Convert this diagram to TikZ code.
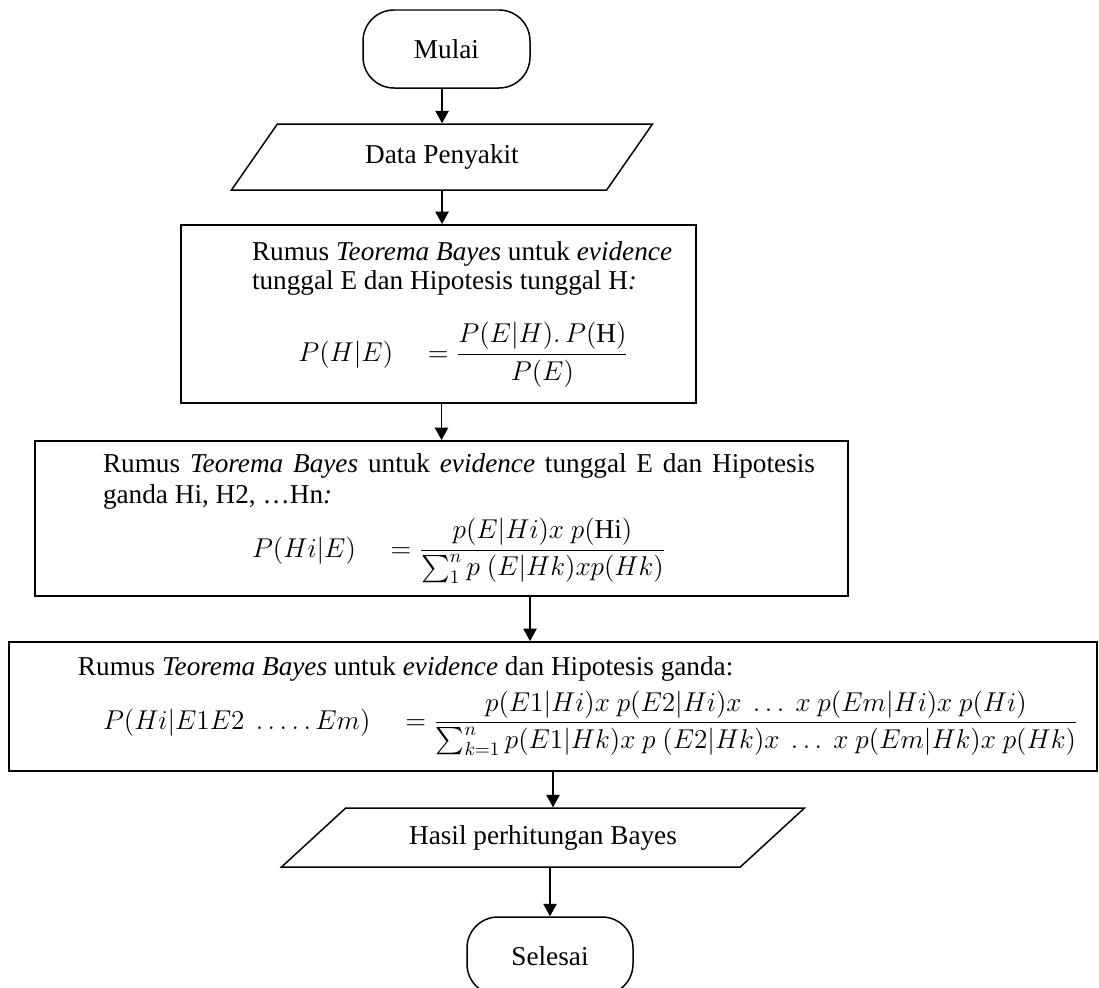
\documentclass[tikz,border=0pt]{standalone}
\usepackage{fix-cm}
\usepackage{amsmath, amssymb}
\usepackage{fontspec}
\setmainfont{Liberation Serif}
\usetikzlibrary{shapes.geometric, arrows.meta}
\newcommand{\diagfont}{\fontsize{15.5}{17}\selectfont}
\tikzstyle{startstop} = [rectangle, rounded corners=0.62cm, minimum width=3.34cm, minimum height=1.56cm, text centered, draw=black, line width=0.85pt]
\tikzstyle{io} = [trapezium, trapezium stretches body, text centered, draw=black, line width=0.85pt]
\tikzstyle{process} = [rectangle, draw=black, line width=1.1pt, inner ysep=0pt]
\tikzstyle{arrow} = [line width=0.7pt, -{Triangle[length=0.25cm, width=0.27cm]}]

\begin{document}
\begin{tikzpicture}[yscale=-1, font=\diagfont]

\useasboundingbox (0,0) rectangle (21.98,19.74);
\clip (0,0) rectangle (21.98,19.74);

\node at (8.93, 0.98) (mulai) [startstop] {Mulai};
\node at (8.84, 3.14) (data) [io, trapezium left angle=38.5, trapezium right angle=141.5, minimum width=8.42cm, minimum height=1.32cm] {Data Penyakit};

\node at (8.77, 6.28) (rumus1) [process, minimum width=10.3cm, minimum height=3.56cm, inner xsep=0.42cm] {\hspace*{1cm}\parbox{8.46cm}{Rumus \textit{Teorema Bayes} untuk \textit{evidence}\\
  tunggal E dan Hipotesis tunggal H\textit{:}\\[0.5cm]
  \makebox[8.46cm]{$P(H|E)\quad = \dfrac{P(E|H).\,P(\mathrm{H})}{P(E)}$}}};

\node at (8.83, 10.37) (rumus2) [process, minimum width=16.26cm, minimum height=3.1cm, inner xsep=0.66cm] {\hspace*{0.7cm}\parbox{14.24cm}{\hyphenpenalty=10000 \baselineskip=18pt
  Rumus \textit{Teorema Bayes} untuk \textit{evidence} tunggal E dan Hipotesis ganda Hi, H2, \ldots Hn\textit{:}\\[0.14cm]
  \makebox[14.24cm]{$P(Hi|E)\quad = \dfrac{p(E|Hi)x\ p(\mathrm{Hi})}{\textstyle\sum_1^n p\ (E|Hk)xp(Hk)}$}}};

\node at (11.06, 14.13) (rumus3) [process, minimum width=21.76cm, minimum height=2.58cm, inner xsep=0.1cm] {\hspace*{1.28cm}\parbox{20.28cm}{Rumus \textit{Teorema Bayes} untuk \textit{evidence} dan Hipotesis ganda:\\[0.14cm]
  \hspace*{0.5cm}$P(Hi|E1E2\ \ldots.\,.\,Em)\quad = \dfrac{p(E1|Hi)x\ p(E2|Hi)x\ \ldots\ x\ p(Em|Hi)x\ p(Hi)}{\textstyle\sum_{k=1}^n p(E1|Hk)x\ p\ (E2|Hk)x\ \ldots\ x\ p(Em|Hk)x\ p(Hk)}$}};

\node at (10.86, 16.75) (hasil) [io, trapezium left angle=29.6, trapezium right angle=150.4, minimum width=10.46cm, minimum height=1.18cm] {Hasil perhitungan Bayes};
\node at (11.0, 19.12) (selesai) [startstop, minimum width=3.32cm] {Selesai};

\coordinate (split) at ([xshift=1.77cm]rumus2.south);

\draw [arrow] (mulai.south -| data.north) -- (data.north);
\draw [arrow] (data.south) -- (data.south |- rumus1.north);
\draw [arrow] (rumus1.south -| rumus2.north) -- (rumus2.north);
\draw [arrow] (split) -- (split |- rumus3.north);
\draw [arrow] (rumus3.south) -- (rumus3.south |- hasil.north);
\draw [arrow] (hasil.south -| selesai.north) -- (selesai.north);

\end{tikzpicture}
\end{document}
